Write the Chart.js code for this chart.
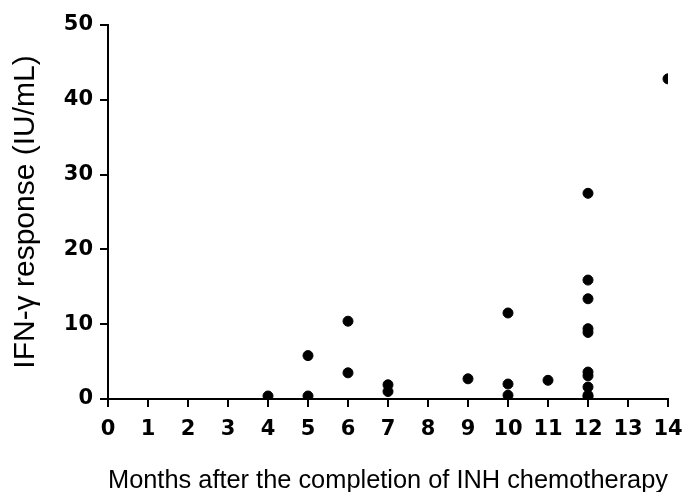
<!DOCTYPE html>
<html>
<head>
<meta charset="utf-8">
<script src="https://cdn.jsdelivr.net/npm/chart.js@4.4.1/dist/chart.umd.min.js"></script>
<style>
html,body{margin:0;padding:0;background:#fff;}
#wrap{width:687px;height:492px;}
</style>
</head>
<body>
<div id="wrap"><canvas id="c" width="687" height="492"></canvas></div>
<script>
const months = [4, 5, 5, 6, 6, 7, 7, 9, 10, 10, 10, 11, 12, 12, 12, 12, 12, 12, 12, 12, 12, 12, 14];
const ifnResponse = [0.4, 0.4, 5.8, 10.4, 3.5, 1.9, 1.0, 2.7, 11.5, 2.0, 0.5, 2.5, 27.5, 15.9, 13.4, 9.4, 8.9, 3.6, 3.1, 1.6, 0.5, 0.3, 42.8];
const xTicks = [0,1,2,3,4,5,6,7,8,9,10,11,12,13,14];
const yTicks = [0,10,20,30,40,50];
const xTitle = 'Months after the completion of INH chemotherapy';
const yTitle = 'IFN-\u03B3 response (IU/mL)';

const points = months.map((m, i) => ({x: m, y: ifnResponse[i]}));
const tickFont = {family: 'DejaVu Sans, sans-serif', size: 21, weight: 'bold'};

new Chart(document.getElementById('c'), {
  type: 'scatter',
  data: {
    datasets: [{
      data: points,
      backgroundColor: '#000',
      borderColor: '#000',
      pointRadius: 5,
      pointHoverRadius: 5
    }]
  },
  options: {
    responsive: false,
    animation: false,
    events: [],
    layout: {padding: {top: 25, right: 19, left: 0, bottom: 0}},
    plugins: {legend: {display: false}, tooltip: {enabled: false}},
    scales: {
      x: {
        type: 'linear',
        min: xTicks[0],
        max: xTicks[xTicks.length - 1],
        afterBuildTicks: s => { s.ticks = xTicks.map(v => ({value: v})); },
        afterFit: s => { s.height = 93; s.paddingLeft = 0; s.paddingRight = 0; },
        grid: {drawOnChartArea: false, drawTicks: true, tickLength: 8, color: '#000', lineWidth: 2},
        border: {display: true, color: '#000', width: 2},
        ticks: {color: '#000', padding: 10, maxRotation: 0, autoSkip: false, font: tickFont},
        title: {display: true, text: xTitle, color: '#000',
          font: {family: 'Liberation Sans, Arial, sans-serif', size: 26, weight: 'normal', lineHeight: 1},
          padding: {top: 0, bottom: -2}}
      },
      y: {
        type: 'linear',
        min: yTicks[0],
        max: yTicks[yTicks.length - 1],
        afterBuildTicks: s => { s.ticks = yTicks.map(v => ({value: v})); },
        afterFit: s => { s.width = 108; s.paddingTop = 0; s.paddingBottom = 0; },
        grid: {drawOnChartArea: false, drawTicks: true, tickLength: 8, color: '#000', lineWidth: 2},
        border: {display: true, color: '#000', width: 2},
        ticks: {color: '#000', padding: 7, font: tickFont},
        title: {display: true, text: yTitle, color: '#000',
          font: {family: 'Liberation Sans, Arial, sans-serif', size: 30, weight: 'normal', lineHeight: 1.2},
          padding: {top: 8, bottom: 8}}
      }
    }
  }
});
</script>
</body>
</html>
